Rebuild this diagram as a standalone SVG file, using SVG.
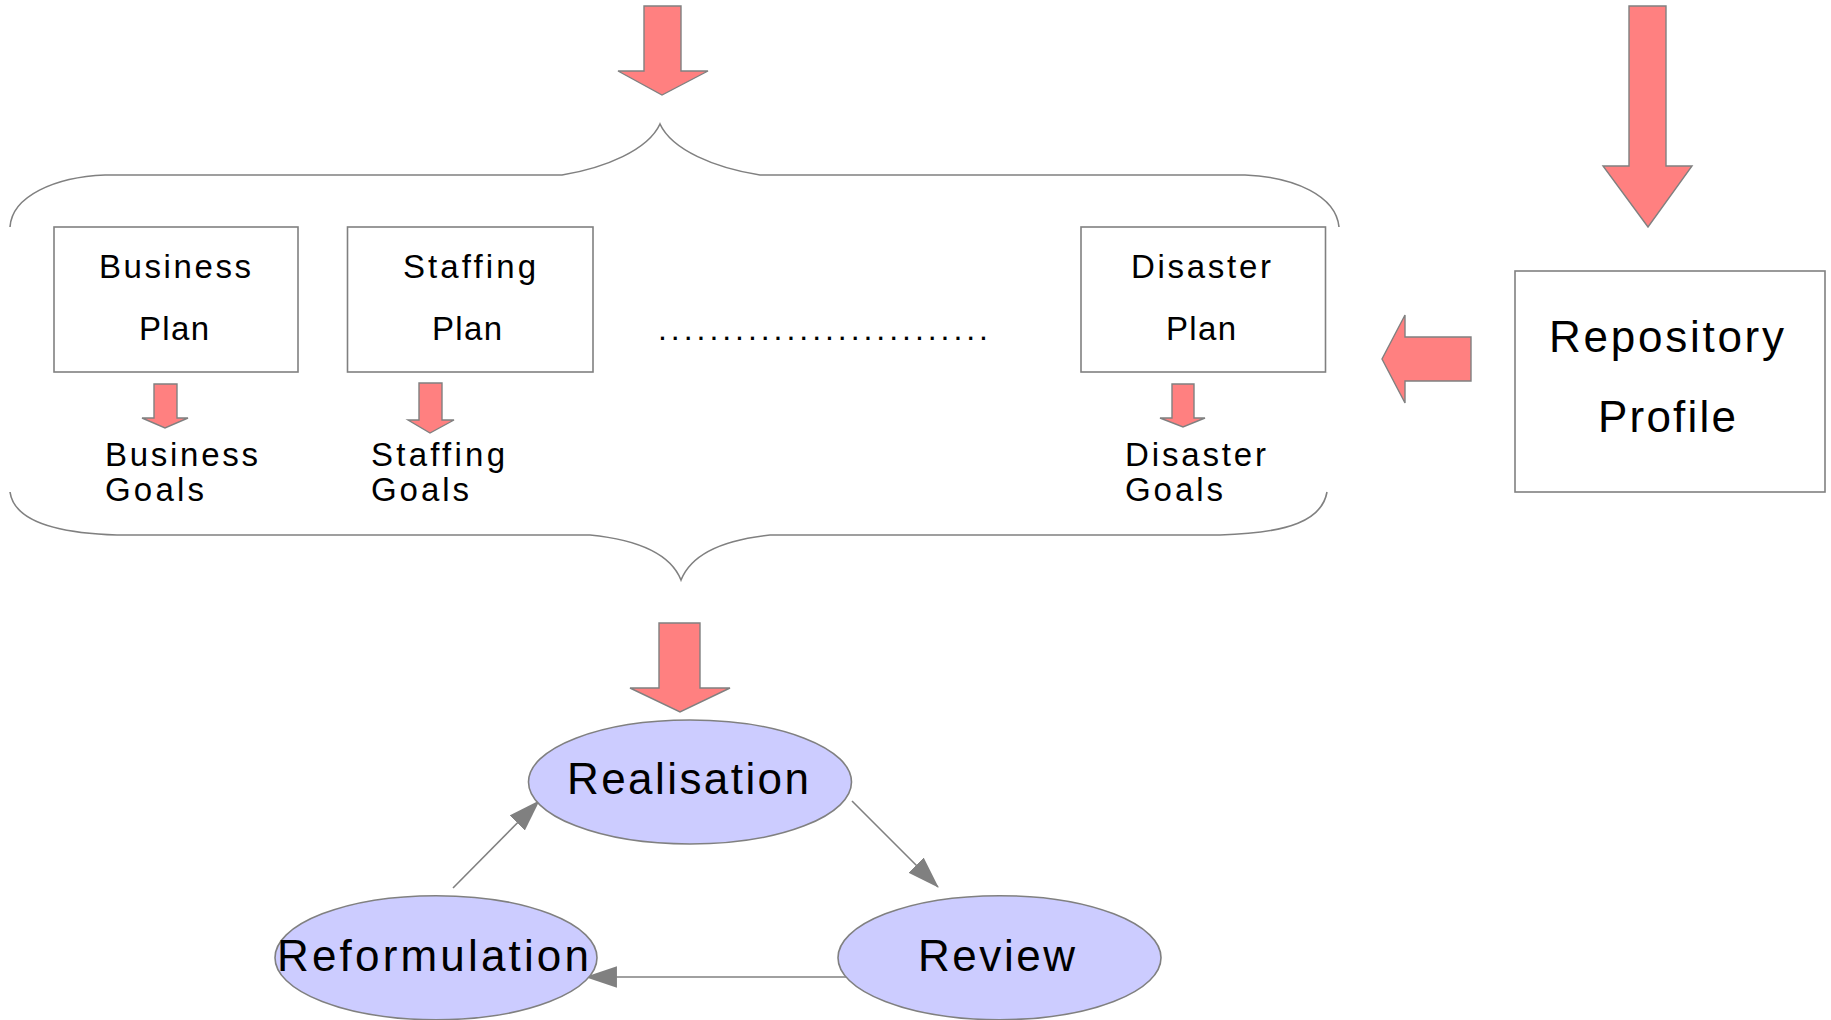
<svg xmlns="http://www.w3.org/2000/svg" width="1831" height="1020" viewBox="0 0 1831 1020">
<style>
  .bg{fill:#ffffff}
  .box{fill:#ffffff;stroke:#808080;stroke-width:1.6}
  .barrow{fill:#ff8080;stroke:#808080;stroke-width:1.4;stroke-linejoin:miter}
  .brace{fill:none;stroke:#808080;stroke-width:1.6}
  .ell{fill:#ccccff;stroke:#808080;stroke-width:1.6}
  .conn{fill:none;stroke:#808080;stroke-width:1.6}
  text{font-family:"Liberation Sans",Arial,sans-serif;fill:#000000}
  .tb{font-size:33px}
  .tg{font-size:33px}
  .tr{font-size:44px}
  .te{font-size:44px}
  .td{font-size:32px}
</style>
<defs>
  <marker id="ah" markerUnits="userSpaceOnUse" markerWidth="32" markerHeight="22" viewBox="0 0 30 20" refX="29" refY="10" orient="auto">
    <path d="M0,0 L30,10 L0,20 z" fill="#808080"/>
  </marker>
</defs>
<rect class="bg" x="0" y="0" width="1831" height="1020"/>

<g id="braces">
  <path class="brace" d="M10,227 C12,196 55,177 105,175 L562,175 C605,168 648,150 660,124 C672,150 715,168 760,175 L1245,175 C1295,177 1336,196 1339,227"/>
  <path class="brace" d="M10,492 C14,520 52,533 117,535 L590,535 C640,540 671,555 681,580 C691,555 722,540 770,535 L1220,535 C1290,533 1322,520 1327,492"/>
</g>

<g id="block-arrows">
  <polygon id="arrow-top" class="barrow" points="644,6 681,6 681,71 708,71 662,95 618,71 644,71"/>
  <polygon id="arrow-right-top" class="barrow" points="1629,6 1666,6 1666,166 1692,166 1648,227 1603,166 1629,166"/>
  <polygon id="arrow-left" class="barrow" points="1471,337 1405,337 1405,315 1382,359 1405,403 1405,381 1471,381"/>
  <polygon id="arrow-business" class="barrow" points="154,384 177,384 177,418 188,418 165,428 142,418 154,418"/>
  <polygon id="arrow-staffing" class="barrow" points="419,383 442,383 442,420 454,420 430,433 408,420 419,420"/>
  <polygon id="arrow-disaster" class="barrow" points="1172,384 1194,384 1194,418 1205,418 1183,427 1160,418 1172,418"/>
  <polygon id="arrow-bottom" class="barrow" points="659,623 700,623 700,688 730,688 680,712 630,688 659,688"/>
</g>

<g id="business-plan">
  <rect class="box" x="54" y="227" width="244" height="145"/>
  <text class="tb" x="99" y="278" textLength="152" lengthAdjust="spacing">Business</text>
  <text class="tb" x="139" y="340" textLength="70" lengthAdjust="spacing">Plan</text>
</g>
<g id="staffing-plan">
  <rect class="box" x="347.5" y="227" width="245.5" height="145"/>
  <text class="tb" x="403" y="278" textLength="133" lengthAdjust="spacing">Staffing</text>
  <text class="tb" x="432" y="340" textLength="70" lengthAdjust="spacing">Plan</text>
</g>
<g id="ellipsis">
  <text class="td" x="658" y="340" textLength="330" lengthAdjust="spacing">..........................</text>
</g>
<g id="disaster-plan">
  <rect class="box" x="1081" y="227" width="244.5" height="145"/>
  <text class="tb" x="1131" y="278" textLength="140" lengthAdjust="spacing">Disaster</text>
  <text class="tb" x="1166" y="340" textLength="70" lengthAdjust="spacing">Plan</text>
</g>
<g id="repository-profile">
  <rect class="box" x="1515" y="271" width="310" height="221"/>
  <text class="tr" x="1549" y="351.5" textLength="235" lengthAdjust="spacing">Repository</text>
  <text class="tr" x="1598" y="432" textLength="138" lengthAdjust="spacing">Profile</text>
</g>

<g id="business-goals">
  <text class="tg" x="105" y="466" textLength="153" lengthAdjust="spacing">Business</text>
  <text class="tg" x="105" y="501" textLength="99" lengthAdjust="spacing">Goals</text>
</g>
<g id="staffing-goals">
  <text class="tg" x="371" y="466" textLength="134" lengthAdjust="spacing">Staffing</text>
  <text class="tg" x="371" y="501" textLength="98" lengthAdjust="spacing">Goals</text>
</g>
<g id="disaster-goals">
  <text class="tg" x="1125" y="466" textLength="141" lengthAdjust="spacing">Disaster</text>
  <text class="tg" x="1125" y="501" textLength="98" lengthAdjust="spacing">Goals</text>
</g>

<g id="connectors">
  <line class="conn" x1="852" y1="801" x2="938" y2="887" marker-end="url(#ah)"/>
  <line class="conn" x1="850" y1="977" x2="586" y2="977" marker-end="url(#ah)"/>
  <line class="conn" x1="453" y1="888" x2="539" y2="801" marker-end="url(#ah)"/>
</g>

<g id="realisation">
  <ellipse class="ell" cx="690" cy="782" rx="161.5" ry="62"/>
  <text class="te" x="567" y="794" textLength="242" lengthAdjust="spacing">Realisation</text>
</g>
<g id="reformulation">
  <ellipse class="ell" cx="436" cy="957.7" rx="161" ry="62"/>
  <text class="te" x="277" y="971" textLength="312" lengthAdjust="spacing">Reformulation</text>
</g>
<g id="review">
  <ellipse class="ell" cx="999.5" cy="957.7" rx="161.5" ry="62"/>
  <text class="te" x="918" y="971" textLength="157" lengthAdjust="spacing">Review</text>
</g>
</svg>
